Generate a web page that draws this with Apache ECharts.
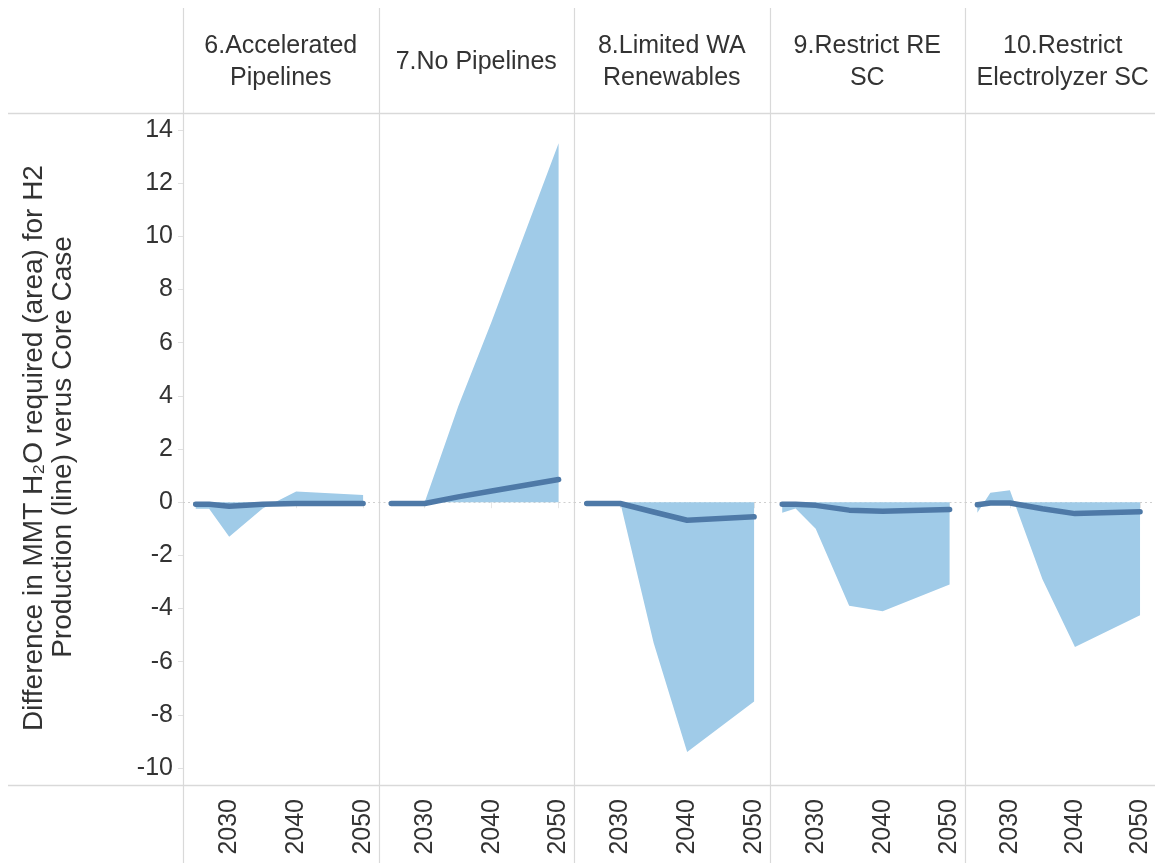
<!DOCTYPE html>
<html>
<head>
<meta charset="utf-8">
<script src="https://cdn.jsdelivr.net/npm/echarts@6/dist/echarts.min.js"></script>
<style>
  html, body { margin: 0; padding: 0; background: #fff; }
  #chart { width: 1155px; height: 863px; }
</style>
</head>
<body>
<div id="chart"></div>
<script>
const years = [2025, 2027, 2030, 2035, 2040, 2050]
const yearTicks = [2030, 2040, 2050]
const scenarios = ['6.Accelerated\nPipelines', '7.No Pipelines', '8.Limited WA\nRenewables', '9.Restrict RE\nSC', '10.Restrict\nElectrolyzer SC']
// water difference (area)
const waterArea = [
  [-0.25, -0.25, -1.3, -0.24, 0.4, 0.27],
  [0, 0, 0, 3.6, 6.8, 13.5],
  [0, 0, 0, -5.3, -9.4, -7.5],
  [-0.4, -0.24, -1.0, -3.9, -4.1, -3.1],
  [-0.4, 0.35, 0.45, -2.9, -5.45, -4.25],
]
// H2 production difference (line)
const h2Line = [
  [-0.08, -0.08, -0.15, -0.08, -0.05, -0.05],
  [-0.05, -0.05, -0.05, 0.2, 0.42, 0.85],
  [-0.05, -0.05, -0.05, -0.37, -0.68, -0.55],
  [-0.08, -0.08, -0.12, -0.3, -0.34, -0.28],
  [-0.1, -0.03, -0.03, -0.25, -0.43, -0.36],
]

const font = '"Liberation Sans", Arial, sans-serif'
const textColor = '#333'
const frameColor = '#d9d9d9'
const panelLeft = 183
const panelWidth = 195.5
const gridTop = 130
const gridHeight = 638

const chart = echarts.init(document.getElementById('chart'))

const grids = [], xAxes = [], yAxes = [], series = [], graphics = []

scenarios.forEach((name, i) => {
  grids.push({ left: panelLeft + i * panelWidth, top: gridTop, width: panelWidth, height: gridHeight })
  xAxes.push({
    type: 'value', gridIndex: i, min: 2023.1, max: 2052.3, offset: 17,
    axisLine: { show: false },
    axisTick: { show: true, customValues: yearTicks, length: 6, lineStyle: { color: '#e6e6e6' } },
    splitLine: { show: false },
    axisLabel: {
      customValues: yearTicks, rotate: 90, margin: 14,
      formatter: (v) => String(v),
      fontFamily: font, fontSize: 25, color: textColor,
    },
  })
  yAxes.push({
    type: 'value', gridIndex: i, min: -10, max: 14, interval: 2,
    axisLine: { show: false },
    axisTick: { show: i === 0, length: 5, lineStyle: { color: '#e0e0e0' } },
    splitLine: { show: false },
    axisLabel: { show: i === 0, margin: 10, fontFamily: font, fontSize: 25, color: textColor },
  })
  // zero reference line, kept underneath the marks
  series.push({
    type: 'line', xAxisIndex: i, yAxisIndex: i, data: [], silent: true, z: 1,
    markLine: {
      silent: true, symbol: 'none', label: { show: false }, z: 1,
      lineStyle: { color: '#cfcfcf', type: [2, 3], width: 1.2 },
      data: [{ yAxis: 0 }],
    },
  })
  series.push({
    type: 'line', xAxisIndex: i, yAxisIndex: i,
    data: years.map((y, k) => [y, waterArea[i][k]]),
    showSymbol: false, silent: true,
    lineStyle: { width: 0 },
    areaStyle: { color: '#a0cbe8', opacity: 1, origin: 0 },
    z: 2,
  })
  series.push({
    type: 'line', xAxisIndex: i, yAxisIndex: i,
    data: years.map((y, k) => [y, h2Line[i][k]]),
    showSymbol: false, silent: true,
    lineStyle: { color: '#4e79a7', width: 5.5, cap: 'round', join: 'round' },
    z: 3,
  })
  graphics.push({
    type: 'text',
    x: panelLeft + i * panelWidth + panelWidth / 2, y: 62,
    style: {
      text: name, fontFamily: font, fontSize: 25, fill: textColor,
      align: 'center', verticalAlign: 'middle', lineHeight: 32,
    },
  })
})

// panel frame lines
for (let i = 0; i < scenarios.length; i++) {
  const x = Math.round(panelLeft + i * panelWidth) + 0.5
  graphics.push({ type: 'line', shape: { x1: x, y1: 8, x2: x, y2: 863 }, style: { stroke: frameColor, lineWidth: 1.2 } })
}
graphics.push({ type: 'line', shape: { x1: 8, y1: 113.5, x2: 1155, y2: 113.5 }, style: { stroke: frameColor, lineWidth: 1.5 } })
graphics.push({ type: 'line', shape: { x1: 8, y1: 785.5, x2: 1155, y2: 785.5 }, style: { stroke: frameColor, lineWidth: 1.5 } })

// y axis title, two lines rotated
graphics.push({
  type: 'text', x: 34, y: 448, rotation: Math.PI / 2,
  style: { text: 'Difference in MMT H₂O required (area) for H2', fontFamily: font, fontSize: 28, fill: textColor, align: 'center', verticalAlign: 'middle' },
})
graphics.push({
  type: 'text', x: 63, y: 447, rotation: Math.PI / 2,
  style: { text: 'Production (line) verus Core Case', fontFamily: font, fontSize: 28, fill: textColor, align: 'center', verticalAlign: 'middle' },
})

chart.setOption({
  animation: false,
  grid: grids,
  xAxis: xAxes,
  yAxis: yAxes,
  series,
  graphic: graphics,
})
</script>
</body>
</html>
